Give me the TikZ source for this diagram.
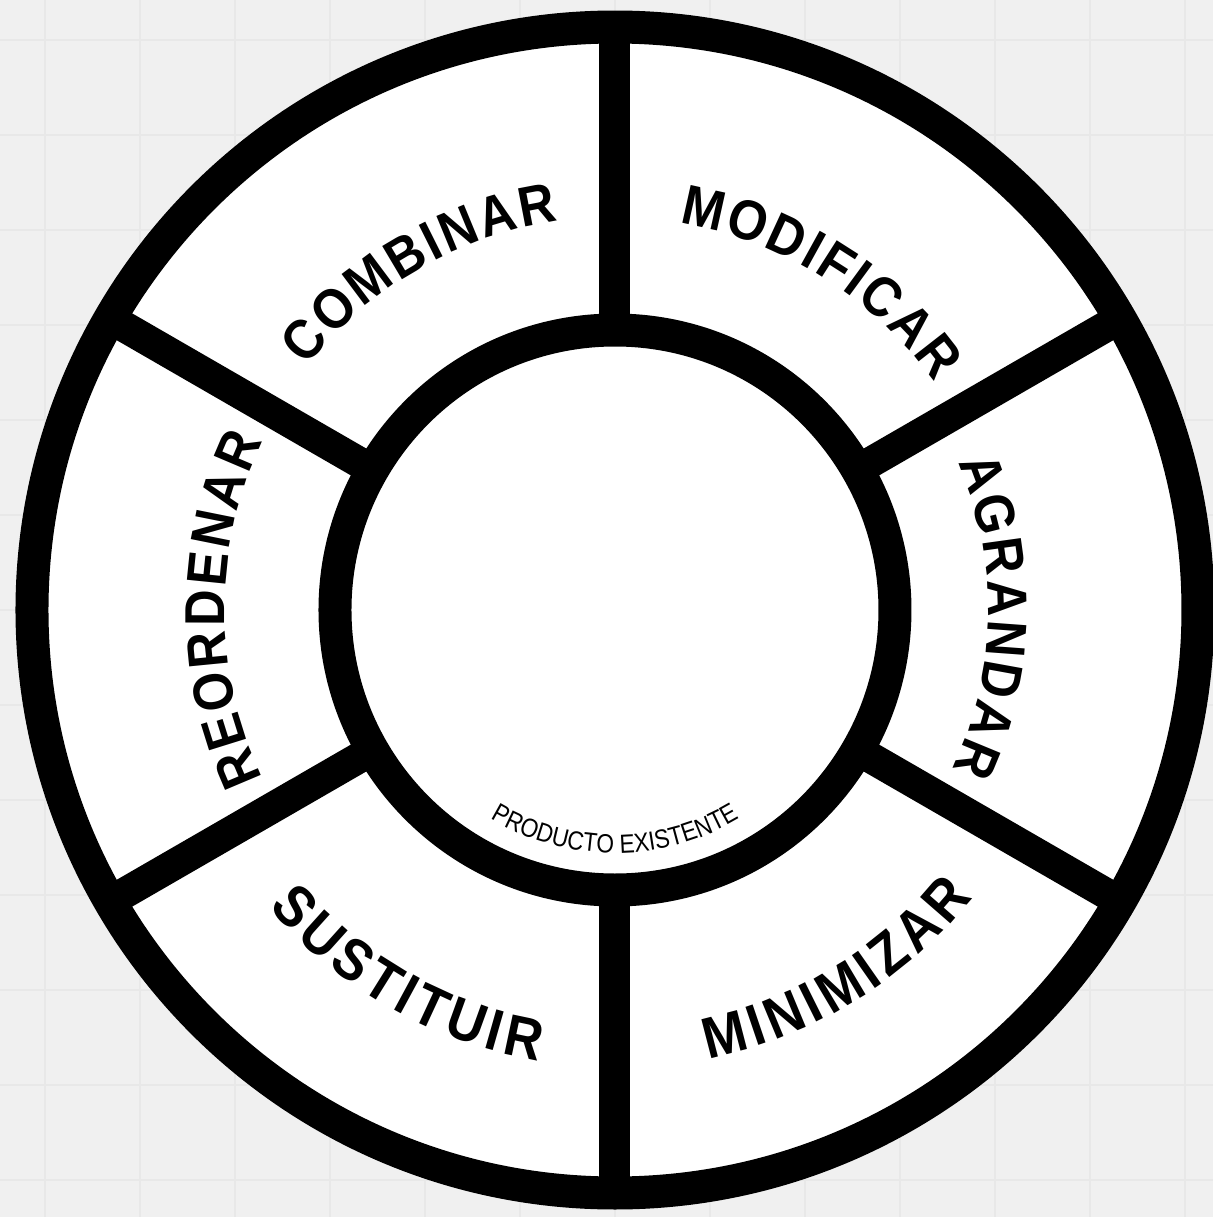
\documentclass[tikz,border=0pt]{standalone}
\usepackage{fontspec}
\setmainfont{Liberation Sans}
\newfontfamily\wordfamily[FakeStretch=0.9]{Liberation Sans}
\newfontfamily\smallfamily[FakeStretch=0.86]{Liberation Sans}
\usetikzlibrary{decorations.text}

\definecolor{paper}{RGB}{240,240,240}
\definecolor{paperline}{RGB}{232,232,232}

\newcommand\wordfont{\wordfamily\bfseries\fontsize{16}{16}\selectfont}
\newcommand\lowfont{\wordfamily\bfseries\fontsize{16.6}{16.6}\selectfont}
\newcommand\smallfont{\smallfamily\fontsize{7.5}{7.5}\selectfont}
\newcommand\trk{\kern0.8pt}
\newcommand\wtrk{\kern1.4pt}

% word along an arc, clockwise (tops outward): centre angle, radius, text
\def\outword(#1:#2)#3{\path[decorate, decoration={text along path, text align=center, text={|\wordfont|#3}}]
  ({#1+60}:#2) arc[start angle={#1+60}, end angle={#1-60}, radius=#2];}
% word along an arc, counterclockwise (tops inward)
\def\inword[#1](#2:#3)#4{\path[decorate, decoration={text along path, text align=center, text={|#1|#4}}]
  ({#2-60}:#3) arc[start angle={#2-60}, end angle={#2+60}, radius=#3];}

\tikzset{
  ring/.style={line width=0.33cm, black},
  spoke/.style={line width=0.31cm, black},
}

\begin{document}
\begin{tikzpicture}
		%%%%% START %%%%%
		\useasboundingbox (-6.15,-6.07) rectangle (5.98,6.10);
		
		% paper
		\fill[paper] (-6.15,-6.07) rectangle (5.98,6.10);
		\draw[paperline, line width=0.4pt, step=0.95] (-6.15,-6.07) grid (5.98,6.10);
		
		\fill[white] (0,0) circle (5.83);
		
		% dividers
		\foreach \a in {30,90,...,330}
			\draw[spoke] (\a:2.80) -- (\a:5.83);
		
		\draw[ring] (0,0) circle (5.83);
		\draw[ring] (0,0) circle (2.80);
		
		% words
		\outword(120:3.93){C{\trk}O{\trk}M{\trk}B{\trk}I{\trk}N{\trk}A{\trk}R}
		\outword(58:3.92){M{\trk}O{\trk}D{\trk}I{\trk}F{\trk}I{\trk}C{\trk}A{\trk}R}
		\outword(-1:3.73){A{\trk}G{\trk}R{\trk}A{\trk}N{\trk}D{\trk}A{\trk}R}
		\outword(180:3.90){R{\trk}E{\trk}O{\trk}R{\trk}D{\trk}E{\trk}N{\trk}A{\trk}R}
		\inword[\lowfont](240.5:4.57){S{\wtrk}U{\wtrk}S{\wtrk}T{\wtrk}I{\wtrk}T{\wtrk}U{\wtrk}I{\wtrk}R}
		\inword[\lowfont](301.5:4.59){M{\wtrk}I{\wtrk}N{\wtrk}I{\wtrk}M{\wtrk}I{\wtrk}Z{\wtrk}A{\wtrk}R}
		
		\inword[\smallfont](270:2.43){PRODUCTO EXISTENTE}
		
		%%%%% END %%%%%
\end{tikzpicture}
\end{document}
